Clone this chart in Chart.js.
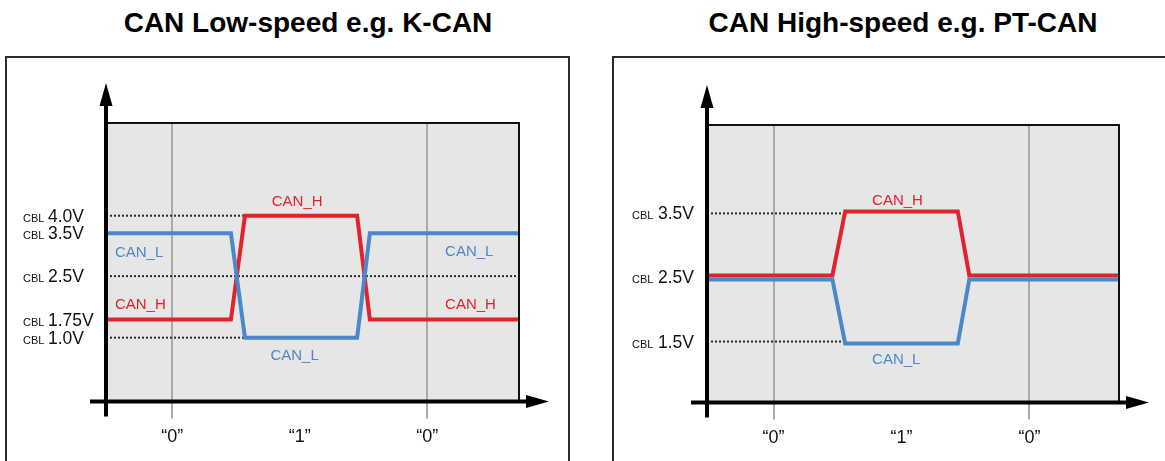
<!DOCTYPE html>
<html>
<head>
<meta charset="utf-8">
<script src="https://cdn.jsdelivr.net/npm/chart.js@4.4.1/dist/chart.umd.min.js"></script>
<style>
  html, body { margin: 0; padding: 0; background: #fff; }
  body { width: 1165px; height: 461px; position: relative; overflow: hidden; font-family: "Liberation Sans", Arial, Helvetica, sans-serif; }
  .title { position: absolute; top: 9px; font-weight: bold; font-size: 28px; line-height: 28px; white-space: nowrap; transform: translateX(-50%); color: #000; }
  .frame { position: absolute; border: 2px solid #2b2b2b; }
  .box { position: absolute; }
</style>
</head>
<body>
<div class="title" style="left:308px">CAN Low-speed e.g. K-CAN</div>
<div class="title" style="left:903px">CAN High-speed e.g. PT-CAN</div>
<div class="frame" style="left:5px;top:56px;width:561px;height:440px"></div>
<div class="frame" style="left:612px;top:56px;width:600px;height:440px"></div>
<div class="box" style="left:0;top:60px;width:582px;height:401px"><canvas id="lowSpeed"></canvas></div>
<div class="box" style="left:600px;top:60px;width:565px;height:401px"><canvas id="highSpeed"></canvas></div>
<script>
// time axis, in bit times
const bitTicks = [0, 1, 2];
const bitLabels = ['\u201C0\u201D', '\u201C1\u201D', '\u201C0\u201D'];

// K-CAN (low speed)
const lsTime = [-0.52, 0.46, 0.57, 1.45, 1.55, 2.72];
const lsCanH = [1.75, 1.75, 4.0, 4.0, 1.75, 1.75];
const lsCanL = [3.5, 3.5, 1.0, 1.0, 3.5, 3.5];
const lsLevels = [4.0, 3.5, 2.5, 1.75, 1.0];
const lsLevelLabels = ['4.0V', '3.5V', '2.5V', '1.75V', '1.0V'];
const lsRefLevels = [4.0, 2.5, 1.0];
const lsRefEnd = [0.57, 2.72, 0.57];

// PT-CAN (high speed)
const hsTime = [-0.52, 0.46, 0.56, 1.44, 1.53, 2.70];
const hsCanH = [2.5, 2.5, 3.5, 3.5, 2.5, 2.5];
const hsCanL = [2.5, 2.5, 1.5, 1.5, 2.5, 2.5];
const hsLevels = [3.5, 2.5, 1.5];
const hsLevelLabels = ['3.5V', '2.5V', '1.5V'];
const hsRefLevels = [3.5, 1.5];
const hsRefEnd = [0.56, 0.56];

const RED = '#e2232b';
const BLUE = '#4a88c9';
const FONT = '"Liberation Sans", Arial, Helvetica, sans-serif';

// K-CAN voltage levels are drawn schematically (not to scale):
// voltage -> fraction of the plot height
const lsLevelPos = [[0, 0], [1.0, 0.229], [1.75, 0.294], [2.5, 0.45], [3.5, 0.604], [4.0, 0.667], [6.0, 1]];

let levelType = 'linear';
if (Chart.LinearScale) {
  class LevelScale extends Chart.LinearScale {
    getPixelForValue(value) {
      const k = lsLevelPos;
      let f = k[k.length - 1][1];
      if (value <= k[0][0]) f = k[0][1];
      else {
        for (let i = 1; i < k.length; i++) {
          if (value <= k[i][0]) {
            const t = (value - k[i - 1][0]) / (k[i][0] - k[i - 1][0]);
            f = k[i - 1][1] + t * (k[i][1] - k[i - 1][1]);
            break;
          }
        }
      }
      return this.getPixelForDecimal(f);
    }
  }
  LevelScale.id = 'level';
  Chart.register(LevelScale);
  levelType = 'level';
}

function series(xs, ys) {
  return xs.map((x, i) => ({ x: x, y: ys[i] }));
}

function signal(label, data, color, order) {
  return {
    label: label, data: data, borderColor: color, borderWidth: 4,
    borderJoinStyle: 'miter', borderCapStyle: 'butt', pointRadius: 0,
    tension: 0, fill: false, order: order, clip: { left: 2, top: 2, right: 0, bottom: 2 },
  };
}

function refLines(levels, ends, x0) {
  return levels.map((v, i) => ({
    label: 'ref', data: [{ x: x0, y: v }, { x: ends[i], y: v }],
    borderColor: '#2a2a2a', borderWidth: 2, borderDash: [2, 2],
    pointRadius: 0, fill: false, order: 2,
  }));
}

function timeScale(min, max) {
  return {
    type: 'linear', min: min, max: max,
    afterBuildTicks: s => { s.ticks = bitTicks.map(v => ({ value: v })); },
    ticks: {
      callback: (v, i) => bitLabels[i],
      color: '#111', font: { family: FONT, size: 18 }, padding: 8,
      maxRotation: 0, autoSkip: false,
    },
    grid: {
      color: c => (c.tick && c.tick.value === 1 ? 'rgba(0,0,0,0)' : '#aaaaaa'),
      lineWidth: 2, tickLength: 17, drawTicks: true,
    },
    border: { display: false },
  };
}

function decor(cfg) {
  return {
    id: 'decor',
    beforeDraw(chart) {
      const { ctx, chartArea: a } = chart;
      ctx.save();
      ctx.fillStyle = '#e6e6e6';
      ctx.fillRect(a.left, a.top, a.right - a.left, a.bottom - a.top);
      ctx.restore();
    },
    beforeDatasetDraw(chart, args) {
      chart.ctx.save();
      chart.ctx.translate(0, cfg.shift[args.index] || 0);
    },
    afterDatasetDraw(chart) {
      chart.ctx.restore();
    },
    afterDraw(chart) {
      const { ctx, chartArea: a } = chart;
      const x = chart.scales.x, y = chart.scales.y;
      ctx.save();
      // plot box top / right edge
      ctx.strokeStyle = '#111';
      ctx.lineWidth = 2;
      ctx.beginPath();
      ctx.moveTo(a.left, a.top);
      ctx.lineTo(a.right, a.top);
      ctx.lineTo(a.right, a.bottom);
      ctx.stroke();
      // axes with arrows
      ctx.strokeStyle = '#000';
      ctx.fillStyle = '#000';
      ctx.lineWidth = 4;
      ctx.beginPath();
      ctx.moveTo(a.left, a.bottom + 15);
      ctx.lineTo(a.left, a.top - 20);
      ctx.moveTo(a.left - 16, a.bottom);
      ctx.lineTo(a.right + 10, a.bottom);
      ctx.stroke();
      ctx.beginPath();
      ctx.moveTo(a.left, a.top - 40);
      ctx.lineTo(a.left - 6.5, a.top - 17);
      ctx.lineTo(a.left + 6.5, a.top - 17);
      ctx.closePath();
      ctx.moveTo(a.right + 30, a.bottom);
      ctx.lineTo(a.right + 7, a.bottom - 6.5);
      ctx.lineTo(a.right + 7, a.bottom + 6.5);
      ctx.closePath();
      ctx.fill();
      // level labels
      ctx.textAlign = 'left';
      ctx.textBaseline = 'alphabetic';
      ctx.fillStyle = '#111';
      cfg.levels.forEach((v, i) => {
        const py = y.getPixelForValue(v) + 6;
        ctx.font = '11px ' + FONT;
        ctx.fillText('CBL', cfg.cblX, py);
        ctx.font = '17.5px ' + FONT;
        ctx.fillText(cfg.levelLabels[i], cfg.valueX, py);
      });
      // signal names
      ctx.font = '15px ' + FONT;
      cfg.notes.forEach(n => {
        ctx.fillStyle = n.color;
        ctx.fillText(n.text, x.getPixelForValue(n.x), y.getPixelForValue(n.y) + n.dy + 5.4);
      });
      ctx.restore();
    },
  };
}

function baseOptions(xMin, xMax, yScale, padding) {
  return {
    responsive: true, maintainAspectRatio: false, animation: false, events: [],
    layout: { padding: padding },
    plugins: { legend: { display: false }, tooltip: { enabled: false } },
    scales: { x: timeScale(xMin, xMax), y: yScale },
  };
}

new Chart(document.getElementById('lowSpeed'), {
  type: 'line',
  data: {
    datasets: [
      signal('CAN_L', series(lsTime, lsCanL), BLUE, 0),
      signal('CAN_H', series(lsTime, lsCanH), RED, 1),
    ].concat(refLines(lsRefLevels, lsRefEnd, lsTime[0])),
  },
  options: baseOptions(lsTime[0], lsTime[lsTime.length - 1],
    { type: levelType, display: false, min: 0, max: 6 },
    { left: 106, top: 63, right: 63, bottom: 5 }),
  plugins: [decor({
    shift: {}, levels: lsLevels, levelLabels: lsLevelLabels, cblX: 23, valueX: 48,
    notes: [
      { text: 'CAN_H', x: 0.78, y: 4.0, dy: -15.5, color: RED },
      { text: 'CAN_L', x: -0.45, y: 3.5, dy: 18.5, color: BLUE },
      { text: 'CAN_H', x: -0.45, y: 1.75, dy: -15.5, color: RED },
      { text: 'CAN_L', x: 0.77, y: 1.0, dy: 17.3, color: BLUE },
      { text: 'CAN_L', x: 2.14, y: 3.5, dy: 17.5, color: BLUE },
      { text: 'CAN_H', x: 2.14, y: 1.75, dy: -16, color: RED },
    ],
  })],
});

new Chart(document.getElementById('highSpeed'), {
  type: 'line',
  data: {
    datasets: [
      signal('CAN_L', series(hsTime, hsCanL), BLUE, 0),
      signal('CAN_H', series(hsTime, hsCanH), RED, 1),
    ].concat(refLines(hsRefLevels, hsRefEnd, hsTime[0])),
  },
  options: baseOptions(hsTime[0], hsTime[hsTime.length - 1],
    { type: 'linear', display: false, min: 0.55, max: 4.88 },
    { left: 107, top: 65, right: 46, bottom: 4 }),
  plugins: [decor({
    shift: { 0: 2, 1: -2 }, levels: hsLevels, levelLabels: hsLevelLabels, cblX: 32, valueX: 58,
    notes: [
      { text: 'CAN_H', x: 0.77, y: 3.5, dy: -14, color: RED },
      { text: 'CAN_L', x: 0.77, y: 1.5, dy: 17, color: BLUE },
    ],
  })],
});
</script>
</body>
</html>
